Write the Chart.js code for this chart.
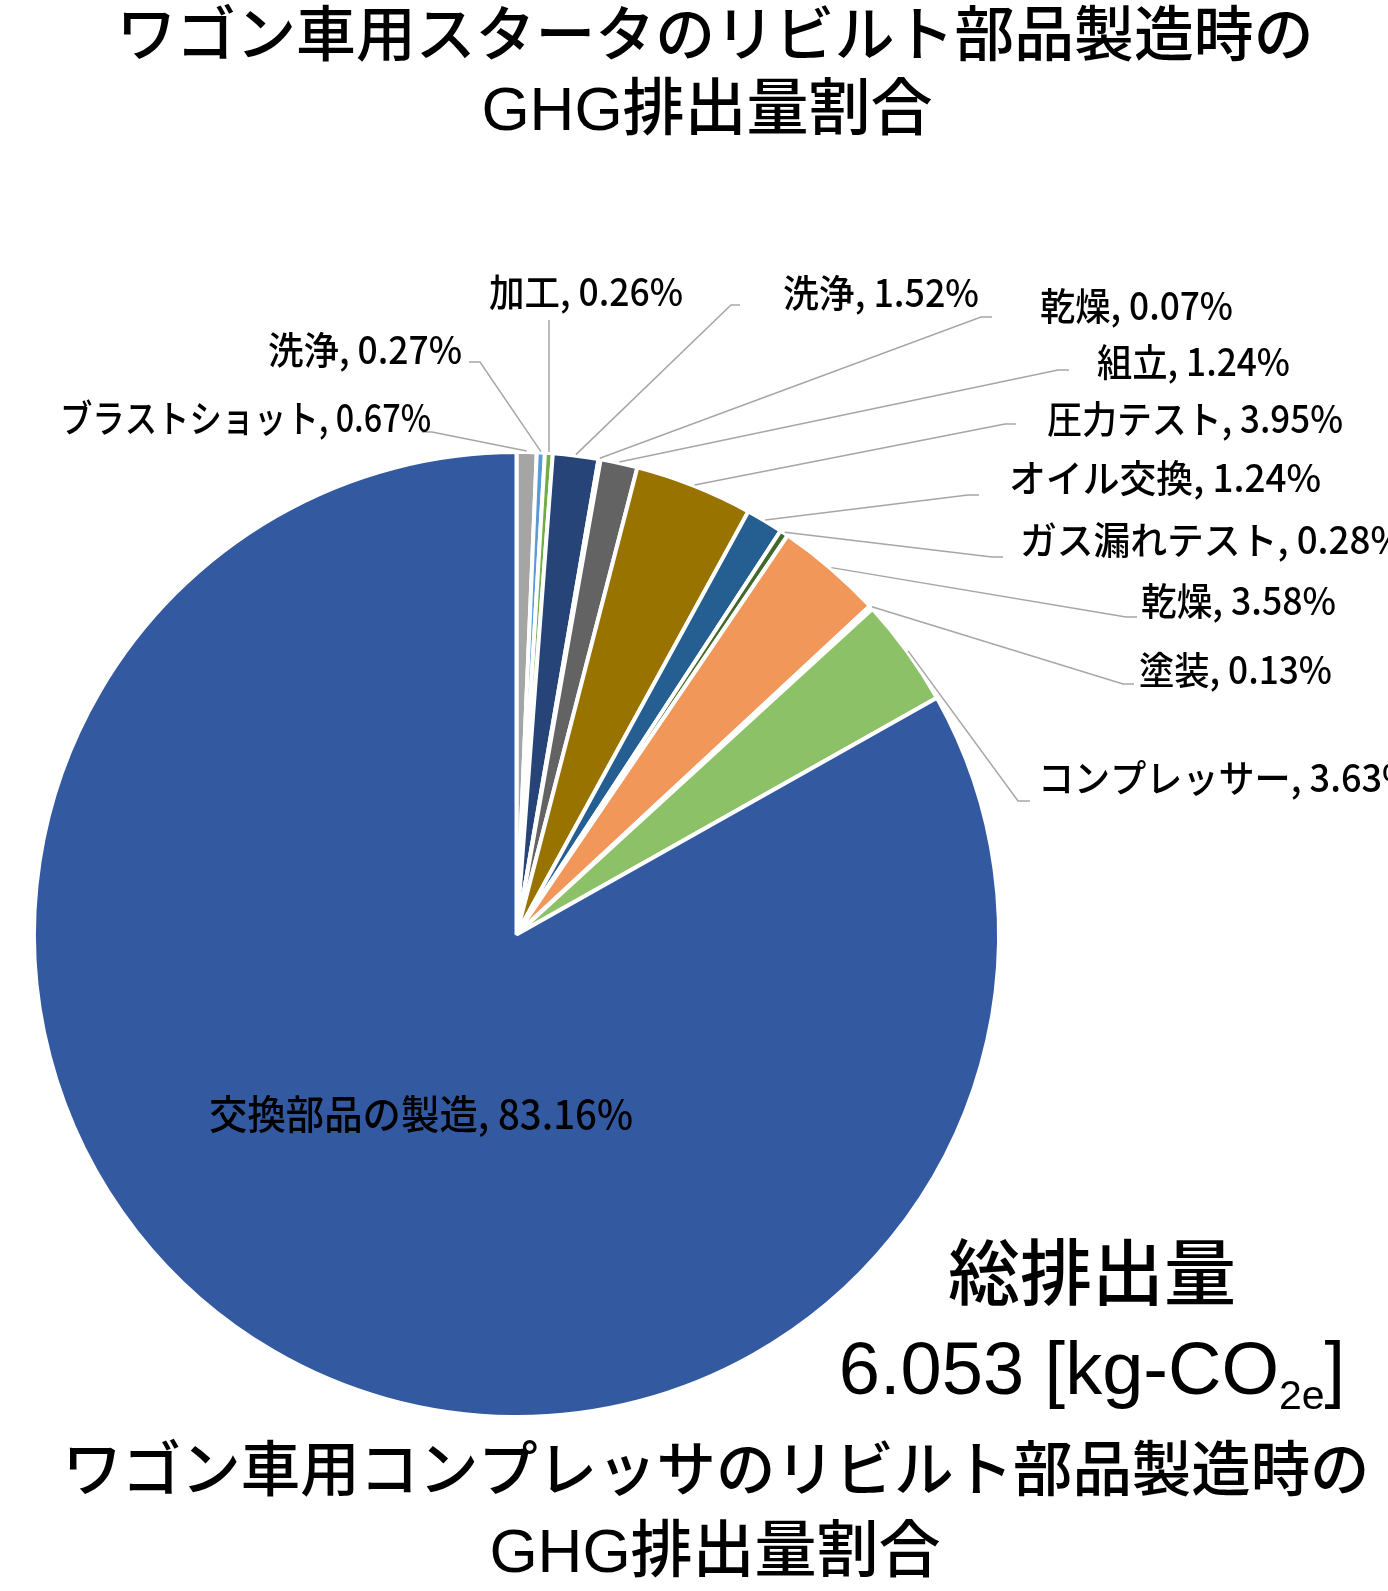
<!DOCTYPE html>
<html lang="ja">
<head>
<meta charset="utf-8">
<title>GHG排出量割合</title>
<script src="https://cdn.jsdelivr.net/npm/chart.js@4.4.1/dist/chart.umd.min.js"></script>
<style>
  html, body { margin: 0; padding: 0; background: #fff; }
  #wrap { width: 1388px; height: 1591px; }
</style>
</head>
<body>
<div id="wrap"><canvas id="pie" width="1388" height="1591"></canvas></div>
<script>
// Process steps, clockwise from 12 o'clock
const steps = ['ブラストショット', '洗浄', '加工', '洗浄', '乾燥', '組立', '圧力テスト',
               'オイル交換', 'ガス漏れテスト', '乾燥', '塗装', 'コンプレッサー', '交換部品の製造'];
// Share of GHG emissions (%)
const shares = [0.67, 0.27, 0.26, 1.52, 0.07, 1.24, 3.95, 1.24, 0.28, 3.58, 0.13, 3.63, 83.16];

const sliceColors = ['#A5A5A5', '#5B9BD5', '#70AD47', '#264478', '#9E480E', '#636363', '#997300',
                     '#255E91', '#43682B', '#F1975A', '#B7B7B7', '#8CC168', '#335AA1'];

const titleTop = ['ワゴン車用スタータのリビルト部品製造時の', 'GHG排出量割合'];
const titleBottom = ['ワゴン車用コンプレッサのリビルト部品製造時の', 'GHG排出量割合'];
const totalLabel = '総排出量';
const totalValue = '6.053';

// Where each slice label sits: text anchor, max text width, leader bend and the short tick next to the text
const labelLayout = [
    { x: 431,  y: 418,  align: 'right',  w: 371, bend: [432, 432],  tick: 422 },
    { x: 462,  y: 350,  align: 'right',  w: 194, bend: [480, 362],  tick: 469 },
    { x: 586,  y: 292,  align: 'center', w: 194, bend: [549, 320],  tick: null },
    { x: 783,  y: 293,  align: 'left',   w: 196, bend: [731, 305],  tick: 740 },
    { x: 1040, y: 306,  align: 'left',   w: 193, bend: [981, 317],  tick: 992 },
    { x: 1097, y: 362,  align: 'left',   w: 193, bend: [1058, 370], tick: 1069 },
    { x: 1047, y: 419,  align: 'left',   w: 296, bend: [1005, 424], tick: 1016 },
    { x: 1009, y: 478,  align: 'left',   w: 312, bend: [968, 495],  tick: 979 },
    { x: 1020, y: 540,  align: 'left',   w: 385, bend: [992, 557],  tick: 1003 },
    { x: 1141, y: 601,  align: 'left',   w: 195, bend: [1126, 617], tick: 1137 },
    { x: 1139, y: 670,  align: 'left',   w: 193, bend: [1123, 684], tick: 1134 },
    { x: 1038, y: 778,  align: 'left',   w: 378, bend: [1018, 801], tick: 1030 },
    { x: 421,  y: 1114, align: 'center', w: 424, bend: null,        tick: null }
];

const SANS = '"Liberation Sans", "Noto Sans CJK JP", sans-serif';
const CJK = '"Noto Sans CJK JP", sans-serif';

function font(size, family) {
    return '500 ' + size + 'px ' + (family || SANS);
}

// Draw a centred line of text squeezed into a given width
function drawLine(ctx, text, x, y, size, maxW) {
    ctx.font = font(size);
    ctx.textAlign = 'center';
    ctx.textBaseline = 'middle';
    ctx.fillText(text, x, y, maxW);
}

// Titles, leader lines, slice labels and the total
const annotate = {
    id: 'annotate',
    afterDatasetsDraw(chart) {
        const ctx = chart.ctx;
        const arcs = chart.getDatasetMeta(0).data;
        ctx.save();

        // leader lines
        ctx.strokeStyle = '#A6A6A6';
        ctx.lineWidth = 1.5;
        arcs.forEach((arc, i) => {
            const spot = labelLayout[i];
            if (!spot.bend) return;
            const p = arc.getProps(['x', 'y', 'startAngle', 'endAngle', 'outerRadius'], true);
            const mid = (p.startAngle + p.endAngle) / 2;
            const r = p.outerRadius + 1;
            ctx.beginPath();
            ctx.moveTo(p.x + Math.cos(mid) * r, p.y + Math.sin(mid) * r);
            ctx.lineTo(spot.bend[0], spot.bend[1]);
            if (spot.tick !== null) ctx.lineTo(spot.tick, spot.bend[1]);
            ctx.stroke();
        });

        // slice labels
        ctx.fillStyle = '#000';
        ctx.textBaseline = 'middle';
        steps.forEach((name, i) => {
            const spot = labelLayout[i];
            ctx.font = font(spot.bend ? 38 : 40, CJK);
            ctx.textAlign = spot.align;
            ctx.fillText(name + ', ' + shares[i].toFixed(2) + '%', spot.x, spot.y, spot.w);
        });

        // titles
        drawLine(ctx, titleTop[0], 715, 39, 60, 1197);
        drawLine(ctx, titleTop[1], 707, 113, 62, 480);
        drawLine(ctx, titleBottom[0], 716, 1474, 60, 1307);
        drawLine(ctx, titleBottom[1], 715, 1555, 62, 480);

        // total emissions
        drawLine(ctx, totalLabel, 1092, 1279, 72, 290);

        const head = totalValue + ' [kg-CO';
        const sub = '2e';
        const tail = ']';
        ctx.textAlign = 'left';
        ctx.textBaseline = 'alphabetic';
        ctx.font = font(74);
        const wHead = ctx.measureText(head).width;
        const wTail = ctx.measureText(tail).width;
        ctx.font = font(41);
        const wSub = ctx.measureText(sub).width;
        let x = 1092 - (wHead + wSub + wTail) / 2;
        ctx.font = font(74);
        ctx.fillText(head, x, 1394);
        x += wHead;
        ctx.font = font(41);
        ctx.fillText(sub, x, 1409);
        x += wSub;
        ctx.font = font(74);
        ctx.fillText(tail, x, 1394);

        ctx.restore();
    }
};

new Chart(document.getElementById('pie').getContext('2d'), {
    type: 'pie',
    data: {
        labels: steps,
        datasets: [{
            data: shares,
            backgroundColor: sliceColors,
            borderColor: '#FFFFFF',
            borderWidth: 4
        }]
    },
    options: {
        responsive: false,
        animation: false,
        layout: {
            padding: { left: 32, top: 450, right: 387, bottom: 172 }
        },
        plugins: {
            legend: { display: false },
            tooltip: { enabled: false }
        }
    },
    plugins: [annotate]
});
</script>
</body>
</html>
